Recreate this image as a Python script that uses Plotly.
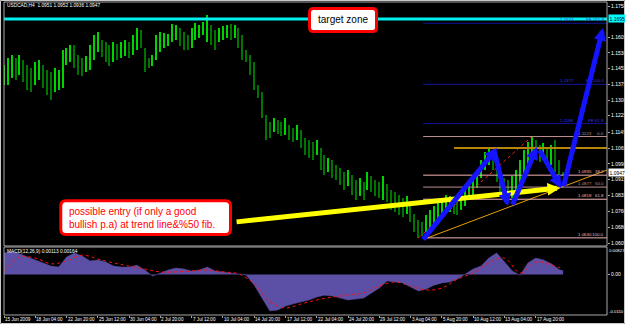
import plotly.graph_objects as go

# ---------------- data ----------------
date_labels = ["15 Jun 2009", "18 Jun 04:00", "22 Jun 20:00", "25 Jun 12:00", "30 Jun 04:00",
               "2 Jul 20:00", "7 Jul 12:00", "10 Jul 04:00", "14 Jul 20:00", "17 Jul 12:00",
               "22 Jul 04:00", "24 Jul 20:00", "29 Jul 12:00", "3 Aug 04:00", "5 Aug 20:00",
               "10 Aug 12:00", "13 Aug 04:00", "17 Aug 20:00"]
bars_per_label = 8

# bar highs / lows in pips above 1.0000
high_pips = [
    1470, 1505, 1520, 1505, 1520, 1495, 1471, 1456, 1486, 1495,
    1471, 1447, 1437, 1456, 1447, 1544, 1554, 1568, 1568, 1520,
    1505, 1515, 1568, 1617, 1632, 1593, 1583, 1568, 1583, 1573,
    1583, 1593, 1583, 1617, 1651, 1641, 1554, 1505, 1520, 1617,
    1632, 1627, 1622, 1670, 1666, 1651, 1632, 1617, 1651, 1675,
    1666, 1680, 1714, 1666, 1641, 1651, 1661, 1666, 1670, 1666,
    1651, 1617, 1544, 1520, 1486, 1374, 1340, 1228, 1194, 1213,
    1203, 1194, 1213, 1179, 1164, 1179, 1155, 1116, 1106, 1096,
    1106, 1067, 1033, 1019, 1009, 985, 970, 950, 960, 936,
    912, 921, 902, 950, 931, 912, 902, 931, 892, 863,
    853, 839, 824, 834, 790, 746, 717, 707, 741, 766,
    785, 805, 814, 839, 834, 824, 814, 834, 863, 912,
    936, 960, 1009, 1048, 1067, 1048, 1009, 960, 921, 912,
    931, 960, 1009, 1058, 1096, 1123, 1106, 1082, 1092, 1067,
    1082, 1106, 1009, 952]
low_pips = [
    1374, 1374, 1408, 1398, 1422, 1388, 1349, 1340, 1374, 1398,
    1359, 1325, 1301, 1340, 1349, 1359, 1471, 1486, 1456, 1422,
    1417, 1437, 1447, 1495, 1534, 1510, 1486, 1466, 1486, 1495,
    1505, 1515, 1505, 1520, 1544, 1554, 1437, 1456, 1466, 1495,
    1534, 1554, 1563, 1583, 1593, 1563, 1544, 1544, 1554, 1593,
    1602, 1617, 1583, 1568, 1544, 1583, 1593, 1602, 1593, 1602,
    1554, 1495, 1486, 1422, 1349, 1310, 1213, 1106, 1116, 1145,
    1135, 1126, 1130, 1106, 1096, 1106, 1067, 1033, 1019, 1009,
    1033, 960, 936, 950, 921, 912, 887, 863, 882, 839,
    814, 834, 814, 863, 853, 834, 824, 814, 805, 766,
    756, 741, 732, 746, 707, 658, 630, 639, 658, 678,
    688, 707, 727, 746, 756, 746, 741, 766, 785, 824,
    839, 873, 921, 960, 985, 960, 902, 839, 814, 809,
    824, 853, 873, 936, 985, 1028, 1019, 999, 1009, 999,
    985, 950, 921, 936]

# MACD histogram (every 2nd bar + last bar) and signal (every 4th bar + last bar)
macd_hist = [
    0.0067, 0.0070, 0.0064, 0.0054, 0.0045, 0.0036, 0.0026, 0.0023, 0.0054, 0.0067,
    0.0057, 0.0042, 0.0045, 0.0039, 0.0026, 0.0023, 0.0023, 0.0029, 0.0014, -0.0005,
    0.0005, 0.0014, 0.0020, 0.0017, 0.0011, 0.0014, 0.0023, 0.0011, 0.0008, 0.0005,
    0.0002, -0.0002, -0.0033, -0.0073, -0.0113, -0.0110, -0.0098, -0.0091, -0.0085, -0.0079,
    -0.0070, -0.0064, -0.0067, -0.0073, -0.0079, -0.0076, -0.0073, -0.0057, -0.0042, -0.0020,
    -0.0023, -0.0026, -0.0039, -0.0051, -0.0045, -0.0033, -0.0026, -0.0023, -0.0014, 0.0002,
    0.0017, 0.0026, 0.0051, 0.0067, 0.0039, 0.0011, -0.0002, 0.0036, 0.0051, 0.0045,
    0.0033, 0.0015, 0.00113]
macd_signal = [
    0.0011, 0.0054, 0.0051, 0.0033, 0.0042, 0.0060, 0.0048, 0.0036, 0.0026, 0.0017,
    0.0008, 0.0008, 0.0011, 0.0014, 0.0008, 0.0002, -0.0029, -0.0085, -0.0104, -0.0091,
    -0.0079, -0.0070, -0.0064, -0.0057, -0.0036, -0.0023, -0.0036, -0.0048, -0.0042, -0.0014,
    0.0005, 0.0036, 0.0051, 0.0005, 0.0039, 0.0030, 0.00164]

price_ticks = [1.1758, 1.1605, 1.1530, 1.1455, 1.1375, 1.1300, 1.1225, 1.1145,
               1.1065, 1.0990, 1.0915, 1.0835, 1.0760, 1.0680, 1.0605]

header_text = "USDCAD,H4  1.0951 1.0952 1.0936 1.0947"
macd_text = "MACD(12,26,9) 0.00113 0.00164"
macd_top_label = "0.00827"
macd_bottom_label = "-0.0110"
last_price = 1.0947

target_level = 1.1695
resistance_level = 1.1067
resistance_start = 115.1

fib_start = 107.2
fib_prices = [1.1123, 1.0935, 1.0877, 1.0818, 1.0630]
fib_names = ["0.0", "38.2", "50.0", "61.8", "100.0"]
fe_prices = [1.1674, 1.1377, 1.1186]
fe_names = ["FE 161.8", "FE 100.0", "FE 61.8"]

fib_base_x = [106, 135]
fib_base_y = [1.0630, 1.1123]
trend_x = [108.2, 154.2]
trend_y = [1.0629, 1.0960]

blue_tail_x = [106.9, 125.3, 129.9, 136.8, 143.0]
blue_tail_y = [1.0615, 1.1058, 1.0785, 1.1062, 1.0873]
blue_head_x = [126.1, 128.9, 136.3, 142.5, 153.2]
blue_head_y = [1.1067, 1.0785, 1.1072, 1.0873, 1.1651]

yellow_tail = (59.1, 1.0707)
yellow_head = (142.2, 1.0873)

entry_text = "possible entry (if only a good<br>bullish p.a) at trend line&amp;%50 fib."
target_text = "target zone"

# ---------------- layout constants ----------------
W, H = 625, 324
ML, MR, MT, MB = 4, 18, 2, 9
PW, PH = W - ML - MR, H - MT - MB
X_MAX = PW / 3.91
P_MIN, P_MAX = 1.05904, 1.17775
M_MIN, M_MAX = -0.012555, 0.008525
MAIN_DOM = [(315 - 246) / PH, 1.0]
MACD_DOM = [0.0, (315 - 247) / PH]
FONT = "Liberation Sans, Arial, sans-serif"


def fx(xpx):
    return (xpx - ML) / PW


def fy(ypx):
    return (H - MB - ypx) / PH


def rounded_box(x0, y0, x1, y1, r):
    return (f"M {fx(x0 + r)},{fy(y0)} L {fx(x1 - r)},{fy(y0)} Q {fx(x1)},{fy(y0)} {fx(x1)},{fy(y0 + r)} "
            f"L {fx(x1)},{fy(y1 - r)} Q {fx(x1)},{fy(y1)} {fx(x1 - r)},{fy(y1)} "
            f"L {fx(x0 + r)},{fy(y1)} Q {fx(x0)},{fy(y1)} {fx(x0)},{fy(y1 - r)} "
            f"L {fx(x0)},{fy(y0 + r)} Q {fx(x0)},{fy(y0)} {fx(x0 + r)},{fy(y0)} Z")


# ---------------- traces ----------------
n = len(high_pips)
idx = list(range(n))
highs = [1 + v / 10000 for v in high_pips]
lows = [1 + v / 10000 for v in low_pips]
mids = [(h + l) / 2 for h, l in zip(highs, lows)]
bar_colors = ["#00d400" if i == 0 or mids[i] >= mids[i - 1] else "#007400" for i in idx]

fig = go.Figure()
fig.add_trace(go.Bar(x=idx, y=[h - l for h, l in zip(highs, lows)], base=lows, width=0.33,
                     marker=dict(color=bar_colors, line=dict(width=0)), xaxis="x", yaxis="y",
                     hoverinfo="skip"))
fig.add_trace(go.Scatter(x=trend_x, y=trend_y, mode="lines", line=dict(color="#e8a000", width=1),
                         xaxis="x", yaxis="y", hoverinfo="skip"))
fig.add_trace(go.Scatter(x=fib_base_x, y=fib_base_y, mode="lines",
                         line=dict(color="#ff2020", width=1, dash="dot"), xaxis="x", yaxis="y",
                         hoverinfo="skip"))

macd_idx = list(range(0, n, 2)) + [n - 1]
sig_idx = list(range(0, n, 4)) + [n - 1]
fig.add_trace(go.Scatter(x=macd_idx, y=macd_hist, mode="lines", fill="tozeroy",
                         fillcolor="#5c4fa6", line=dict(color="#5c4fa6", width=0.5),
                         xaxis="x", yaxis="y2", hoverinfo="skip"))
fig.add_trace(go.Scatter(x=sig_idx, y=macd_signal, mode="lines", line_shape="spline",
                         line=dict(color="#ff1010", width=1, dash="dot"), xaxis="x", yaxis="y2",
                         hoverinfo="skip"))

# ---------------- shapes ----------------
shapes = []
fib_colors = ["#bc8f8f", "#f4b4b4", "#bc8f8f", "#f4b4b4", "#f4b4b4"]
for p, c in zip(fib_prices, fib_colors):
    shapes.append(dict(type="line", xref="x", yref="y", x0=fib_start, x1=X_MAX, y0=p, y1=p,
                       line=dict(color=c, width=1)))
for p in fe_prices:
    shapes.append(dict(type="line", xref="x", yref="y", x0=fib_start, x1=X_MAX, y0=p, y1=p,
                       line=dict(color="#14149c", width=1)))
shapes.append(dict(type="line", xref="x", yref="y", x0=resistance_start, x1=X_MAX,
                   y0=resistance_level, y1=resistance_level, line=dict(color="#b8860b", width=2)))
shapes.append(dict(type="line", xref="paper", yref="y", x0=0, x1=1, y0=target_level, y1=target_level,
                   line=dict(color="#00f0f0", width=3)))
# panel frames
shapes.append(dict(type="rect", xref="paper", yref="paper", x0=0, x1=1, y0=MAIN_DOM[0], y1=1,
                   line=dict(color="#a8a8a8", width=1)))
shapes.append(dict(type="rect", xref="paper", yref="paper", x0=0, x1=1, y0=0, y1=MACD_DOM[1],
                   line=dict(color="#a8a8a8", width=1)))
# outer window border
shapes.append(dict(type="rect", xref="paper", yref="paper", x0=fx(0.5), x1=fx(W - 0.5),
                   y0=fy(H - 0.5), y1=fy(0.5), line=dict(color="#c8c8c8", width=1)))
# text boxes
shapes.append(dict(type="path", xref="paper", yref="paper", path=rounded_box(309.5, 8.5, 376.5, 31.5, 4),
                   fillcolor="white", line=dict(color="#ff0000", width=3)))
shapes.append(dict(type="path", xref="paper", yref="paper", path=rounded_box(60.8, 200.8, 230.5, 234.5, 5),
                   fillcolor="white", line=dict(color="#ff0000", width=3)))

# ---------------- annotations ----------------
ann = []
ann.append(dict(xref="paper", yref="paper", x=fx(5), y=fy(5.5), text=header_text, showarrow=False,
                xanchor="left", yanchor="middle", font=dict(size=4.8, color="white")))
ann.append(dict(xref="paper", yref="paper", x=fx(5), y=fy(251.5), text=macd_text, showarrow=False,
                xanchor="left", yanchor="middle", font=dict(size=4.8, color="white")))
ann.append(dict(xref="paper", yref="paper", x=fx(607.5), y=fy(250.5), text=macd_top_label, showarrow=False,
                xanchor="left", yanchor="middle", borderpad=0, font=dict(size=4.3, color="white")))
ann.append(dict(xref="paper", yref="paper", x=fx(607.5), y=fy(311), text=macd_bottom_label, showarrow=False,
                xanchor="left", yanchor="middle", borderpad=0, font=dict(size=4.3, color="white")))
# time-axis labels, left-aligned at their tick as in the terminal
for k, lab in enumerate(date_labels):
    ann.append(dict(xref="x", yref="paper", x=k * bars_per_label, y=fy(319.8), text=lab,
                    showarrow=False, xanchor="left", yanchor="middle", xshift=-1,
                    font=dict(size=4.6, color="white")))
ann.append(dict(xref="paper", yref="y", x=1, y=last_price, text=f"{last_price:.4f}", showarrow=False,
                xanchor="left", yanchor="middle", xshift=1, bgcolor="white", borderpad=0.5,
                font=dict(size=5, color="black")))
ann.append(dict(xref="paper", yref="y", x=1, y=target_level, text=f"{target_level:.4f}", showarrow=False,
                xanchor="left", yanchor="middle", xshift=1, bgcolor="#00ffff", borderpad=0.5,
                font=dict(size=5, color="#000040")))
for p, name, c in zip(fib_prices, fib_names, fib_colors):
    ann.append(dict(xref="paper", yref="y", x=fx(576), y=p, text=f"{p:.4f}", showarrow=False,
                    xanchor="left", yanchor="bottom", yshift=-1, font=dict(size=4.4, color=c)))
    ann.append(dict(xref="paper", yref="y", x=fx(605.5), y=p, text=name, showarrow=False,
                    xanchor="right", yanchor="bottom", yshift=-1, font=dict(size=4.4, color=c)))
for p, name in zip(fe_prices, fe_names):
    ann.append(dict(xref="paper", yref="y", x=fx(558), y=p, text=f"{p:.4f}", showarrow=False,
                    xanchor="left", yanchor="bottom", yshift=-1, font=dict(size=4.4, color="#3434e0")))
    ann.append(dict(xref="paper", yref="y", x=fx(606), y=p, text=name, showarrow=False,
                    xanchor="right", yanchor="bottom", yshift=-1, font=dict(size=4.4, color="#3434e0")))
ann.append(dict(xref="x", yref="y", axref="x", ayref="y", x=yellow_head[0], y=yellow_head[1],
                ax=yellow_tail[0], ay=yellow_tail[1], text="", showarrow=True, arrowhead=2,
                arrowsize=0.5, arrowwidth=5, arrowcolor="#ffff00", standoff=0, startstandoff=0))
for tx, ty, hx, hy in zip(blue_tail_x, blue_tail_y, blue_head_x, blue_head_y):
    ann.append(dict(xref="x", yref="y", axref="x", ayref="y", x=hx, y=hy, ax=tx, ay=ty, text="",
                    showarrow=True, arrowhead=2, arrowsize=0.5, arrowwidth=5, arrowcolor="#1414ff",
                    standoff=0, startstandoff=0))
ann.append(dict(xref="paper", yref="paper", x=fx(343), y=fy(20), text=target_text, showarrow=False,
                xanchor="center", yanchor="middle", font=dict(size=10, color="black")))
ann.append(dict(xref="paper", yref="paper", x=fx(67), y=fy(218), text=entry_text, showarrow=False,
                xanchor="left", yanchor="middle", align="left", font=dict(size=10, color="#ff0000")))

fig.update_layout(
    template="none",
    width=W, height=H,
    margin=dict(l=ML, r=MR, t=MT, b=MB, pad=0),
    paper_bgcolor="black", plot_bgcolor="black",
    font=dict(family=FONT, color="white"),
    showlegend=False,
    bargap=0,
    xaxis=dict(domain=[0, 1], range=[0, X_MAX], anchor="y2", showgrid=False, zeroline=False,
               showline=False, tickvals=[i * bars_per_label for i in range(len(date_labels))],
               showticklabels=False, ticks="outside", ticklen=2, tickcolor="#a8a8a8",
               automargin=False, fixedrange=True),
    yaxis=dict(domain=MAIN_DOM, range=[P_MIN, P_MAX], anchor="x", side="right", showgrid=False,
               zeroline=False, showline=False, tickvals=price_ticks,
               ticktext=[f"{v:.4f}" for v in price_ticks], ticks="outside", ticklen=2,
               tickcolor="#a8a8a8", tickfont=dict(size=5, color="white"), automargin=False,
               fixedrange=True),
    yaxis2=dict(domain=MACD_DOM, range=[M_MIN, M_MAX], anchor="x", side="right", showgrid=False,
                zeroline=False, showline=False, tickvals=[0], ticktext=["0.00"], ticks="outside",
                ticklen=2, tickcolor="#a8a8a8", tickfont=dict(size=5, color="white"),
                automargin=False, fixedrange=True),
    shapes=shapes,
    annotations=ann,
)

fig.write_html("out.html")
